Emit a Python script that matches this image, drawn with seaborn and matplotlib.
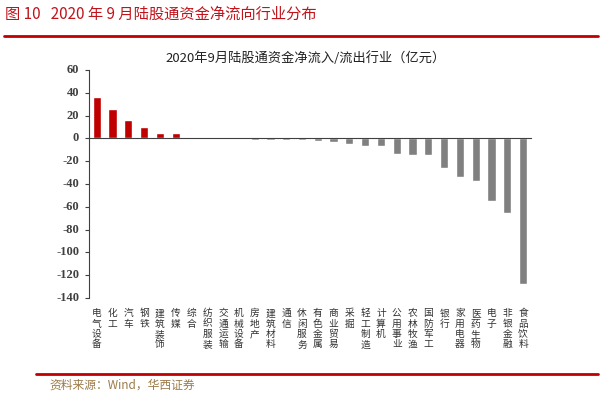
import numpy as np
import matplotlib
matplotlib.use("Agg")
import matplotlib.pyplot as plt
import matplotlib.transforms as mtransforms
import seaborn as sns

# Industry net flows of Shanghai/Shenzhen connect funds, Sep 2020 (100m CNY)
industries = ["电气设备", "化工", "汽车", "钢铁", "建筑装饰", "传媒", "综合",
              "纺织服装", "交通运输", "机械设备", "房地产", "建筑材料", "通信",
              "休闲服务", "有色金属", "商业贸易", "采掘", "轻工制造", "计算机",
              "公用事业", "农林牧渔", "国防军工", "银行", "家用电器", "医药生物",
              "电子", "非银金融", "食品饮料"]
net_flow = [36.5, 26.0, 16.3, 10.0, 5.0, 4.5, 1.5,
            0.5, -0.3, -0.8, -1.2, -1.5, -1.5,
            -1.8, -2.0, -2.8, -4.8, -6.3, -6.5,
            -14.0, -14.5, -14.8, -25.9, -33.5, -37.3,
            -54.7, -65.8, -128.0]
y_ticks = [60, 40, 20, 0, -20, -40, -60, -80, -100, -120, -140]

RED = "#c00000"
GRAY = "#808080"

sns.set_style("white")
plt.rcParams["font.family"] = ["Noto Sans CJK SC", "DejaVu Sans"]

fig = plt.figure(figsize=(6, 3.96), dpi=100)
ax = fig.add_axes([0.148, 0.2475, 0.737, 0.5758])

colors = [RED if v > 0 else GRAY for v in net_flow]
sns.barplot(x=industries, y=net_flow, hue=industries, palette=colors,
            legend=False, width=0.52, ax=ax, saturation=1)

ax.set_ylim(-140, 60)
ax.set_xlim(-0.5, len(industries) - 0.5)
ax.set_yticks(y_ticks)
ax.set_yticklabels([])
ax.tick_params(axis="y", direction="out", length=3, width=0.8,
               color="#404040", left=True)
ax.set_xlabel("")
ax.set_ylabel("")

# y tick labels in a bold serif face, placed at the tick values
ytrans = mtransforms.blended_transform_factory(ax.transAxes, ax.transData)
for t in y_ticks:
    ax.text(-0.022, t, str(t), transform=ytrans, ha="right", va="center",
            family="Liberation Serif", fontweight="bold", fontsize=9,
            color="#404040")

for side in ["top", "right"]:
    ax.spines[side].set_visible(False)
ax.spines["left"].set_color("#404040")
ax.spines["left"].set_linewidth(0.8)
ax.spines["bottom"].set_position(("data", 0))
ax.spines["bottom"].set_color("#404040")
ax.spines["bottom"].set_linewidth(0.8)

# ticks on the zero line between categories, labels stacked below the axes
ax.set_xticks(np.arange(len(industries)))
ax.set_xticklabels([])
ax.tick_params(axis="x", which="major", length=0)
ax.set_xticks(np.arange(len(industries)) + 0.5, minor=True)
ax.tick_params(axis="x", which="minor", direction="out", length=2.5,
               width=0.8, color="#404040")

trans = mtransforms.blended_transform_factory(ax.transData, ax.transAxes)
for i, name in enumerate(industries):
    ax.text(i, -0.045, "\n".join(name), transform=trans, ha="center",
            va="top", fontsize=7, linespacing=1.05, color="#333333")

ax.set_title("2020年9月陆股通资金净流入/流出行业（亿元）", fontsize=9.5,
             color="#222222", pad=6, x=0.49)

# page header / footer
fig.text(0.008, 0.963, "图 10   2020 年 9 月陆股通资金净流向行业分布",
         fontsize=11, color="#c0141c", va="center", ha="left")
fig.add_artist(plt.Line2D([0.007, 0.997], [0.909, 0.909], color=RED, lw=2))
fig.add_artist(plt.Line2D([0.06, 0.997], [0.056, 0.056], color=RED, lw=2))
fig.text(0.083, 0.028, "资料来源：Wind，华西证券", fontsize=8.5,
         color="#9c7a48", va="center", ha="left")

fig.savefig("out.png", dpi=100)
